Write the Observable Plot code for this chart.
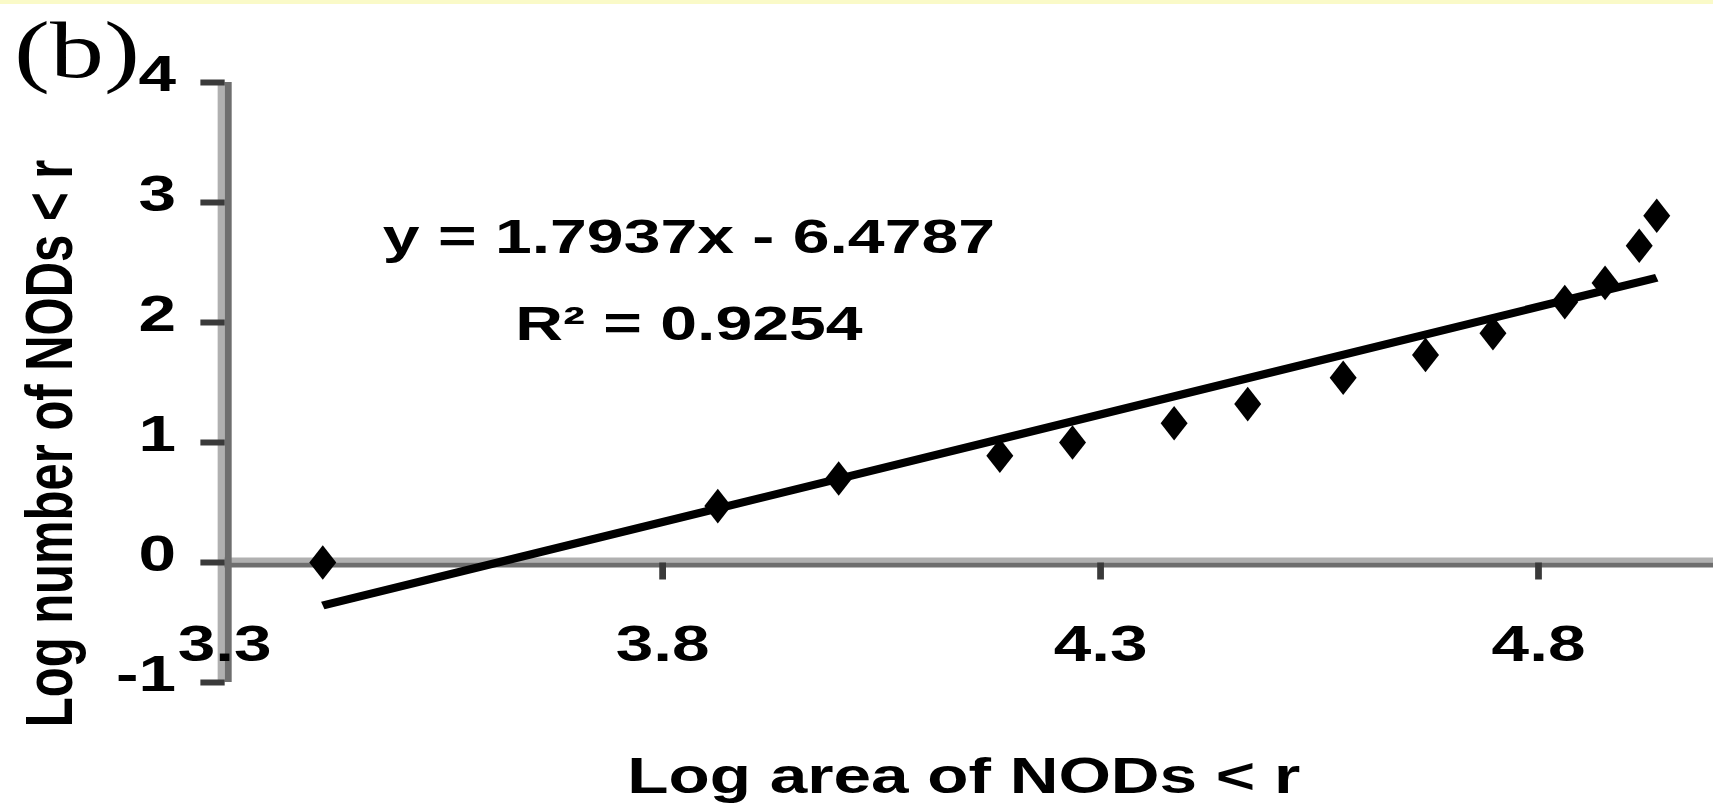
<!DOCTYPE html>
<html>
<head>
<meta charset="utf-8">
<script src="https://cdn.jsdelivr.net/npm/d3@7"></script>
<script src="https://cdn.jsdelivr.net/npm/@observablehq/plot@0.6"></script>
<style>
  html, body { margin: 0; padding: 0; background: #ffffff; }
  #band { height: 4px; background: #fafac8; }
  #chart svg { display: block; }
</style>
</head>
<body>
<div id="band"></div>
<div id="chart"></div>
<script>
// ---- data ----
const xValues = [3.412, 3.863, 4.001, 4.185, 4.268, 4.384, 4.468, 4.577, 4.671, 4.748, 4.830, 4.876, 4.915, 4.935];
const yValues = [0.00, 0.47, 0.70, 0.89, 1.00, 1.16, 1.32, 1.54, 1.73, 1.91, 2.17, 2.33, 2.64, 2.89];
const xTicks = [3.3, 3.8, 4.3, 4.8];
const xTickLabels = ["3.3", "3.8", "4.3", "4.8"];
const yTicks = [-1, 0, 1, 2, 3, 4];
const yTickLabels = ["-1", "0", "1", "2", "3", "4"];
const xDomain = [3.3, 5.0];
const yDomain = [-1, 4];
const slope = 1.7937;
const intercept = -6.4787;
const rSquared = 0.9254;
const panelLabel = "(b)";
const xLabel = "Log area of NODs < r";
const yLabel = "Log number of NODs < r";

// ---- derived tables ----
const points = xValues.map((x, i) => ({x, y: yValues[i]}));
const fit = d3.extent(xValues).map(x => ({x, y: slope * x + intercept}));
const eqText = `y = ${slope}x - ${Math.abs(intercept)}`;
const r2Text = `R² = ${rSquared}`;

// the reference picture is horizontally stretched; draw narrow then stretch
const FINAL_W = 1713, H = 800;
const STRETCH = 1.35;
const W0 = Math.round(FINAL_W / STRETCH);

const tickDown = {draw(ctx) { ctx.moveTo(0, 0); ctx.lineTo(0, 17); }};
const tickLeft = {draw(ctx) { ctx.moveTo(0, 0); ctx.lineTo(-18, 0); }};

const font = "Liberation Sans, Arial, sans-serif";

const chart = Plot.plot({
  width: W0,
  height: H,
  marginLeft: 224 / (FINAL_W / W0),
  marginRight: 0,
  marginTop: 78,
  marginBottom: 122,
  x: {domain: xDomain, axis: null},
  y: {domain: yDomain, axis: null},
  style: {fontFamily: font, fontWeight: "bold", color: "#000", background: "#fff"},
  marks: [
    // axis lines (two-tone, as in the blurred reference)
    Plot.ruleY([0], {x1: xDomain[0], x2: xDomain[1], stroke: "#b0b0b0", strokeWidth: 5, dy: -2.5}),
    Plot.ruleY([0], {x1: xDomain[0], x2: xDomain[1], stroke: "#6e6e6e", strokeWidth: 5, dy: 2.5}),
    Plot.ruleX([xDomain[0]], {y1: yDomain[0], y2: yDomain[1], stroke: "#b0b0b0", strokeWidth: 5.2, dx: -2.6}),
    Plot.ruleX([xDomain[0]], {y1: yDomain[0], y2: yDomain[1], stroke: "#6e6e6e", strokeWidth: 5.2, dx: 2.6}),
    // ticks
    Plot.dot(xTicks.filter(d => d > xDomain[0]), {x: d => d, y: 0, symbol: tickDown, fill: "none", stroke: "#3a3a3a", strokeWidth: 5, strokeLinecap: "butt"}),
    Plot.dot(yTicks, {x: xDomain[0], y: d => d, symbol: tickLeft, fill: "none", stroke: "#3a3a3a", strokeWidth: 6, strokeLinecap: "butt"}),
    // tick labels
    Plot.text(xTicks, {x: d => d, y: 0, text: (d, i) => xTickLabels[i], dy: 98, lineAnchor: "bottom", fontSize: 50, fontFamily: font, fontWeight: "bold", fill: "#000"}),
    Plot.text(yTicks, {x: xDomain[0], y: d => d, text: (d, i) => yTickLabels[i], textAnchor: "end", dx: -36, dy: -8, fontSize: 50, fontFamily: font, fontWeight: "bold", fill: "#000"}),
    // fitted trend line and data points
    Plot.line(fit, {x: "x", y: "y", stroke: "#000", strokeWidth: 8, strokeLinecap: "butt"}),
    Plot.dot(points, {x: "x", y: "y", symbol: "diamond", r: 10.5, fill: "#000", stroke: "none"}),
    // equation annotations
    Plot.text([eqText], {x: 3.83, y: 2.583, lineAnchor: "bottom", fontSize: 49, fontFamily: font, fontWeight: "bold", fill: "#000"}),
    Plot.text([r2Text], {x: 3.83, y: 1.858, lineAnchor: "bottom", fontSize: 49, fontFamily: font, fontWeight: "bold", fill: "#000"}),
    // axis titles
    Plot.text([xLabel], {frameAnchor: "bottom", dx: -4, dy: 110, textAnchor: "middle", lineAnchor: "bottom", fontSize: 50, fontFamily: font, fontWeight: "bold", fill: "#000"}),
    Plot.text([yLabel], {frameAnchor: "left", rotate: -90, dx: -113, dy: 61, textAnchor: "middle", lineAnchor: "bottom", fontSize: 49, fontFamily: font, fontWeight: "bold", fill: "#000"}),
    // panel label
    Plot.text([panelLabel], {frameAnchor: "top-left", dx: -156, dy: -6, textAnchor: "start", lineAnchor: "bottom", fontSize: 80, fontFamily: "Liberation Serif, Times New Roman, serif", fontWeight: "normal", fill: "#000"})
  ]
});

chart.setAttribute("viewBox", `0 0 ${W0} ${H}`);
chart.setAttribute("width", FINAL_W);
chart.setAttribute("height", H);
chart.setAttribute("preserveAspectRatio", "none");
chart.style.width = FINAL_W + "px";
chart.style.height = H + "px";
chart.style.maxWidth = "none";
document.getElementById("chart").appendChild(chart);
</script>
</body>
</html>
